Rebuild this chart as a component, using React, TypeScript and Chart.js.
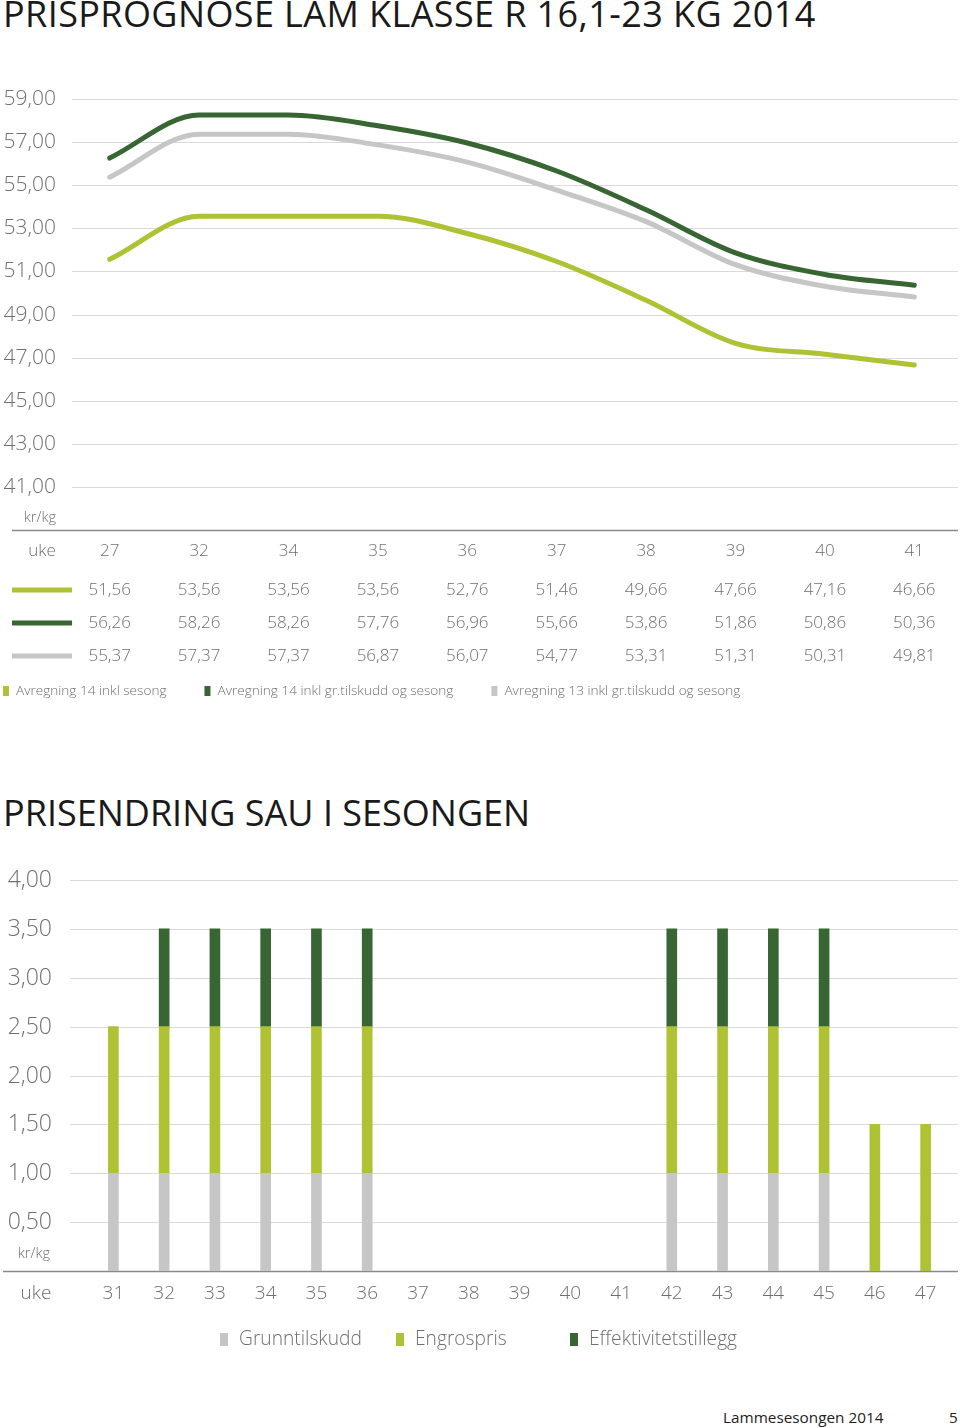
import React, { useEffect, useRef } from 'react';
import { Chart, registerables } from 'chart.js';
Chart.register(...registerables);

// ---------- Data: chart 1 ----------
const weeks1 = ['27', '32', '34', '35', '36', '37', '38', '39', '40', '41'];
const avr14Sesong = [51.56, 53.56, 53.56, 53.56, 52.76, 51.46, 49.66, 47.66, 47.16, 46.66];
const avr14GrSesong = [56.26, 58.26, 58.26, 57.76, 56.96, 55.66, 53.86, 51.86, 50.86, 50.36];
const avr13GrSesong = [55.37, 57.37, 57.37, 56.87, 56.07, 54.77, 53.31, 51.31, 50.31, 49.81];
const series1Names = [
  'Avregning 14 inkl sesong',
  'Avregning 14 inkl gr.tilskudd og sesong',
  'Avregning 13 inkl gr.tilskudd og sesong',
];

// ---------- Data: chart 2 ----------
const weeks2 = ['31', '32', '33', '34', '35', '36', '37', '38', '39', '40', '41', '42', '43', '44', '45', '46', '47'];
const grunntilskudd = [1, 1, 1, 1, 1, 1, null, null, null, null, null, 1, 1, 1, 1, null, null];
const engrospris = [1.5, 1.5, 1.5, 1.5, 1.5, 1.5, null, null, null, null, null, 1.5, 1.5, 1.5, 1.5, 1.5, 1.5];
const effektivitetstillegg = [null, 1, 1, 1, 1, 1, null, null, null, null, null, 1, 1, 1, 1, null, null];
const series2Names = ['Grunntilskudd', 'Engrospris', 'Effektivitetstillegg'];

const title1 = 'PRISPROGNOSE LAM KLASSE R 16,1-23 KG 2014';
const title2 = 'PRISENDRING SAU I SESONGEN';
const footerText = 'Lammesesongen 2014';
const pageNo = '5';

const LIME = '#aec234';
const DARK = '#386633';
const GREY = '#c6c6c6';
const TEXT = '#6f6f6f';
const GRID = '#dadada';
const AXIS = '#8a8a8a';
const FONT = '"Open Sans", "Noto Sans", sans-serif';

const fmt = (v: number) => v.toFixed(2).replace('.', ',');

function gridPlugin(x0: number, x1: number, ax0: number, labelRight: number, fontSize: number) {
  return {
    id: 'customGrid',
    beforeDatasetsDraw(chart: any) {
      const { ctx } = chart;
      const y = chart.scales.y;
      ctx.save();
      ctx.font = `300 ${fontSize}px ${FONT}`;
      ctx.fillStyle = TEXT;
      ctx.textAlign = 'right';
      ctx.textBaseline = 'middle';
      y.ticks.forEach((t: any) => {
        const py = Math.round(y.getPixelForValue(t.value)) + 0.5;
        ctx.beginPath();
        if (t.value === y.min) {
          ctx.strokeStyle = AXIS;
          ctx.lineWidth = 1.5;
          ctx.moveTo(ax0, py);
        } else {
          ctx.strokeStyle = GRID;
          ctx.lineWidth = 1;
          ctx.moveTo(x0, py);
          ctx.fillText(fmt(t.value), labelRight, py);
        }
        ctx.lineTo(x1, py);
        ctx.stroke();
      });
      ctx.restore();
    },
  };
}

function LineChart() {
  const ref = useRef<HTMLCanvasElement>(null);
  useEffect(() => {
    const colors = [LIME, DARK, GREY];
    const series = [avr14Sesong, avr14GrSesong, avr13GrSesong];
    const tablePlugin = {
      id: 'table1',
      afterDraw(chart: any) {
        const { ctx } = chart;
        const x = chart.scales.x;
        const y = chart.scales.y;
        ctx.save();
        ctx.textBaseline = 'middle';
        // kr/kg
        ctx.fillStyle = TEXT;
        ctx.font = `300 14.5px ${FONT}`;
        ctx.textAlign = 'right';
        ctx.fillText('kr/kg', 56, y.getPixelForValue(y.min) - 12);
        // header row
        ctx.font = `300 17px ${FONT}`;
        ctx.textAlign = 'center';
        ctx.fillText('uke', 42, 471);
        weeks1.forEach((w, i) => ctx.fillText(w, x.getPixelForValue(i), 471));
        // rows
        const rowY = [510, 543, 576];
        series.forEach((s, r) => {
          ctx.strokeStyle = colors[r];
          ctx.lineWidth = 5;
          ctx.beginPath();
          ctx.moveTo(12, rowY[r]);
          ctx.lineTo(72, rowY[r]);
          ctx.stroke();
          ctx.fillStyle = TEXT;
          s.forEach((v, i) => ctx.fillText(fmt(v), x.getPixelForValue(i), rowY[r]));
        });
        // legend
        ctx.font = `300 13.6px ${FONT}`;
        ctx.textAlign = 'left';
        let lx = 3;
        series1Names.forEach((n, i) => {
          ctx.fillStyle = colors[i];
          ctx.fillRect(lx, 606, 6, 10);
          ctx.fillStyle = TEXT;
          ctx.fillText(n, lx + 13, 611);
          lx += 13 + ctx.measureText(n).width + 38;
        });
        ctx.restore();
      },
    };
    const chart = new Chart(ref.current!, {
      type: 'line',
      data: {
        labels: weeks1,
        datasets: series.map((s, i) => ({
          label: series1Names[i],
          data: s,
          borderColor: colors[i],
          backgroundColor: colors[i],
          borderWidth: 5,
          borderCapStyle: 'round',
          pointRadius: 0,
          cubicInterpolationMode: 'monotone',
          fill: false,
        })),
      },
      options: {
        animation: false,
        responsive: false,
        layout: { padding: { top: 19, bottom: 190, left: 0, right: 1 } },
        plugins: { legend: { display: false }, tooltip: { enabled: false } },
        scales: {
          x: { type: 'category', display: false, offset: true },
          y: {
            min: 39,
            max: 59,
            afterFit: (s: any) => { s.width = 65; },
            grid: { display: false, drawTicks: false },
            border: { display: false },
            ticks: { stepSize: 2, display: false },
          },
        },
      },
      plugins: [gridPlugin(72, 958, 12, 56, 21), tablePlugin],
    });
    return () => chart.destroy();
  }, []);
  return <canvas ref={ref} width={960} height={640} style={{ position: 'absolute', left: 0, top: 80, width: 960, height: 640 }} />;
}

function BarChart() {
  const ref = useRef<HTMLCanvasElement>(null);
  useEffect(() => {
    const colors = [GREY, LIME, DARK];
    const series = [grunntilskudd, engrospris, effektivitetstillegg];
    const labelPlugin = {
      id: 'labels2',
      afterDraw(chart: any) {
        const { ctx } = chart;
        const x = chart.scales.x;
        const y = chart.scales.y;
        ctx.save();
        ctx.textBaseline = 'middle';
        ctx.fillStyle = TEXT;
        ctx.font = `300 14.5px ${FONT}`;
        ctx.textAlign = 'right';
        ctx.fillText('kr/kg', 50, y.getPixelForValue(0) - 17);
        ctx.font = `300 19px ${FONT}`;
        ctx.textAlign = 'center';
        ctx.fillText('uke', 36, 444);
        weeks2.forEach((w, i) => ctx.fillText(w, x.getPixelForValue(i), 444));
        // legend
        ctx.font = `300 19.2px ${FONT}`;
        ctx.textAlign = 'left';
        const lxs = [220, 396, 570];
        series2Names.forEach((n, i) => {
          ctx.fillStyle = colors[i];
          ctx.fillRect(lxs[i], 483, 8, 13);
          ctx.fillStyle = TEXT;
          ctx.fillText(n, lxs[i] + 19, 490);
        });
        ctx.restore();
      },
    };
    const chart = new Chart(ref.current!, {
      type: 'bar',
      data: {
        labels: weeks2,
        datasets: series.map((s, i) => ({
          label: series2Names[i],
          data: s,
          backgroundColor: colors[i],
          borderWidth: 0,
          barThickness: 10,
        })),
      },
      options: {
        animation: false,
        responsive: false,
        layout: { padding: { top: 30, bottom: 99, left: 0, right: 9 } },
        plugins: { legend: { display: false }, tooltip: { enabled: false } },
        scales: {
          x: { type: 'category', display: false, stacked: true, offset: true },
          y: {
            stacked: true,
            min: 0,
            max: 4,
            afterFit: (s: any) => { s.width = 88; },
            grid: { display: false, drawTicks: false },
            border: { display: false },
            ticks: { stepSize: 0.5, display: false },
          },
        },
      },
      plugins: [gridPlugin(70, 958, 3, 52, 23), labelPlugin],
    });
    return () => chart.destroy();
  }, []);
  return <canvas ref={ref} width={960} height={520} style={{ position: 'absolute', left: 0, top: 850, width: 960, height: 520 }} />;
}

export default function App() {
  const titleStyle: React.CSSProperties = {
    position: 'absolute',
    left: 3,
    margin: 0,
    fontFamily: FONT,
    fontWeight: 500,
    fontSize: 36,
    lineHeight: '36px',
    color: '#1a1a1a',
    whiteSpace: 'nowrap',
  };
  return (
    <div style={{ position: 'absolute', left: 0, top: 0, width: 960, height: 1428, background: '#fff', overflow: 'hidden' }}>
      <div style={{ ...titleStyle, top: -4, letterSpacing: '0.4px' }}>{title1}</div>
      <LineChart />
      <div style={{ ...titleStyle, top: 795 }}>{title2}</div>
      <BarChart />
      <div style={{ position: 'absolute', left: 723, top: 1406, fontFamily: FONT, fontSize: 15.3, lineHeight: '22px', color: '#222' }}>{footerText}</div>
      <div style={{ position: 'absolute', left: 949, top: 1406, fontFamily: FONT, fontSize: 15.3, lineHeight: '22px', color: '#222' }}>{pageNo}</div>
    </div>
  );
}
